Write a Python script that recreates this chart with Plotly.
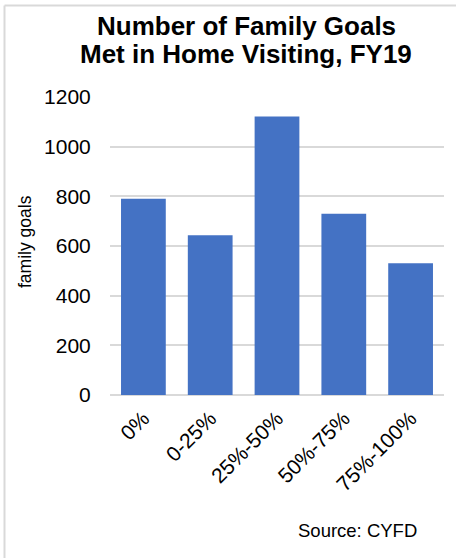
import plotly.graph_objects as go

categories = ["0%", "0-25%", "25%-50%", "50%-75%", "75%-100%"]
goals_met = [790, 643, 1121, 730, 531]
y_ticks = [0, 200, 400, 600, 800, 1000, 1200]
title_lines = ["Number of Family Goals", "Met in Home Visiting, FY19"]

W, H = 456, 558
L, R, T, B = 110, 12, 97, 163
pw, ph = W - L - R, H - T - B

def px_x(p):
    return (p - L) / pw

def px_y(p):
    return (H - B - p) / ph

fig = go.Figure(go.Bar(
    x=categories, y=goals_met,
    marker=dict(color="#4472C4", line=dict(width=0)),
    width=0.67,
))

font = "Liberation Sans, Arial, sans-serif"

annotations = [
    dict(text="<b>%s</b>" % title_lines[0], xref="paper", yref="paper",
         x=px_x(246), y=px_y(26), xanchor="center", yanchor="middle",
         showarrow=False, font=dict(size=26, family=font, color="#000000")),
    dict(text="<b>%s</b>" % title_lines[1], xref="paper", yref="paper",
         x=px_x(246), y=px_y(54), xanchor="center", yanchor="middle",
         showarrow=False, font=dict(size=26, family=font, color="#000000")),
    dict(text="family goals", xref="paper", yref="paper",
         x=px_x(25), y=px_y(242), xanchor="center", yanchor="middle",
         textangle=-90,
         showarrow=False, font=dict(size=17.5, family=font, color="#000000")),
    dict(text="Source: CYFD", xref="paper", yref="paper",
         x=px_x(419), y=px_y(530), xanchor="right", yanchor="middle",
         showarrow=False, font=dict(size=18.5, family=font, color="#000000")),
]

fig.update_layout(
    width=W, height=H,
    margin=dict(l=L, r=R, t=T, b=B, autoexpand=False),
    paper_bgcolor="white", plot_bgcolor="white",
    showlegend=False,
    font=dict(family=font, color="#000000", size=21),
    xaxis=dict(
        tickangle=-45, tickfont=dict(size=21),
        showgrid=False, showline=False,
        ticks="outside", ticklen=2, tickcolor="rgba(0,0,0,0)",
        automargin=False,
    ),
    yaxis=dict(
        range=[0, 1200], tickvals=y_ticks,
        showgrid=True, gridcolor="#d9d9d9", gridwidth=1.5,
        zeroline=True, zerolinecolor="#d9d9d9", zerolinewidth=1.5,
        ticks="outside", ticklen=14, tickcolor="rgba(0,0,0,0)",
        tickfont=dict(size=21),
        automargin=False,
    ),
    shapes=[
        dict(type="line", xref="paper", yref="paper",
             x0=px_x(4.5), x1=px_x(W + 5), y0=px_y(5.5), y1=px_y(5.5),
             line=dict(color="#d9d9d9", width=2)),
        dict(type="line", xref="paper", yref="paper",
             x0=px_x(4.5), x1=px_x(4.5), y0=px_y(5.5), y1=px_y(H + 5),
             line=dict(color="#d9d9d9", width=2)),
    ],
    annotations=annotations,
)

fig.write_html("out.html", config={"displayModeBar": False},
               post_script="document.body.style.margin='0';")
